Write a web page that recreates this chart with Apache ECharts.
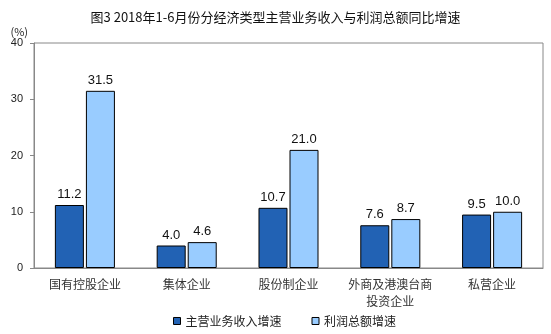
<!DOCTYPE html>
<html><head><meta charset="utf-8">
<script src="https://cdn.jsdelivr.net/npm/echarts@6/dist/echarts.min.js"></script>
<style>html,body{margin:0;padding:0;background:#fff}#c{width:551px;height:334px}</style>
</head><body><div id="c"></div>
<script>
const categories = ['国有控股企业', '集体企业', '股份制企业', '外商及港澳台商\n投资企业', '私营企业'];
const revenueGrowth = [11.2, 4.0, 10.7, 7.6, 9.5];
const profitGrowth = [31.5, 4.6, 21.0, 8.7, 10.0];
const seriesNames = ['主营业务收入增速', '利润总额增速'];
const yTicks = { min: 0, max: 40, interval: 10 };

const cjk = '"Noto Sans CJK SC", sans-serif';
const chart = echarts.init(document.getElementById('c'), null, { renderer: 'canvas' });
const labelCfg = {
  show: true, position: 'top', distance: 4,
  fontFamily: '"Liberation Sans", Arial, sans-serif', fontSize: 13, color: '#111',
  formatter: p => p.value.toFixed(1)
};
chart.setOption({
  animation: false,
  title: {
    text: '图3 2018年1-6月份分经济类型主营业务收入与利润总额同比增速',
    left: 'center', top: 6,
    textStyle: { fontFamily: cjk, fontSize: 13, fontWeight: 'normal', color: '#111' }
  },
  legend: {
    bottom: 2, left: 168, itemWidth: 7, itemHeight: 7, itemGap: 30,
    textStyle: { fontFamily: cjk, fontSize: 12, color: '#222' },
    itemStyle: { borderColor: '#000', borderWidth: 1 },
    data: seriesNames.map(n => ({ name: n, icon: 'rect' }))
  },
  grid: { left: 34, top: 43, right: 8, bottom: 66, show: true, borderColor: '#888', borderWidth: 1 },
  xAxis: {
    type: 'category', data: categories,
    axisLine: { lineStyle: { color: '#888' } }, axisTick: { show: false },
    axisLabel: { interval: 0, fontFamily: cjk, fontSize: 12, color: '#333', margin: 8, lineHeight: 17 }
  },
  yAxis: {
    type: 'value', min: yTicks.min, max: yTicks.max, interval: yTicks.interval,
    name: '(%)', nameLocation: 'end', nameGap: 4,
    nameTextStyle: { fontFamily: cjk, fontSize: 11, color: '#222', align: 'right', padding: [0, 6, 0, 0] },
    axisLine: { show: true, lineStyle: { color: '#888' } },
    axisTick: { show: true, length: 4, lineStyle: { color: '#888' } },
    splitLine: { show: false },
    axisLabel: { fontFamily: '"Liberation Sans", Arial, sans-serif', fontSize: 11, color: '#222', margin: 11 }
  },
  series: [
    { name: seriesNames[0], type: 'bar', data: revenueGrowth, barWidth: 29, barGap: '7%',
      itemStyle: { color: '#2262B4', borderColor: '#000', borderWidth: 1 }, label: labelCfg },
    { name: seriesNames[1], type: 'bar', data: profitGrowth, barWidth: 29,
      itemStyle: { color: '#99CCFF', borderColor: '#000', borderWidth: 1 }, label: labelCfg }
  ]
});
</script></body></html>
